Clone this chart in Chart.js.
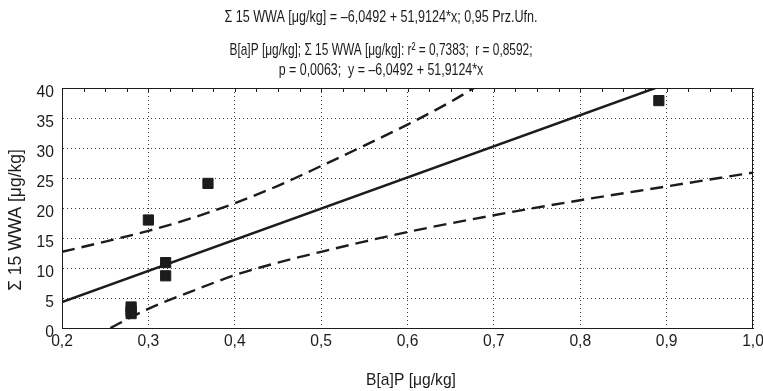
<!DOCTYPE html>
<html>
<head>
<meta charset="UTF-8">
<script src="https://cdn.jsdelivr.net/npm/chart.js"></script>
<style>
  body { margin: 0; background: #fff; }
  #wrap { width: 763px; height: 391px; position: relative; }
</style>
</head>
<body>
<div id="wrap"><canvas id="chart" width="763" height="391"></canvas></div>
<script>
// data
const pointsX = [0.280, 0.280, 0.280, 0.300, 0.320, 0.320, 0.369, 0.891];
const pointsY = [3.5, 2.9, 2.4, 18.0, 10.9, 8.7, 24.1, 37.9];

// fitted line y = -6,0492 + 51,9124*x (clipped at y = 40)
const fitX = [0.2, 0.8869];
const fitY = [4.33, 40];

// 0,95 confidence bands
const upperX = [0.2, 0.25, 0.3, 0.35, 0.4, 0.45, 0.5, 0.55, 0.6, 0.65, 0.677];
const upperY = [12.7, 14.4, 16.2, 18.3, 20.8, 23.7, 27.0, 30.4, 33.9, 37.7, 40.0];
const lowerX = [0.256, 0.3, 0.35, 0.4, 0.45, 0.5, 0.55, 0.6, 0.7, 0.8, 0.9, 1.0];
const lowerY = [0, 3.2, 6.1, 8.8, 10.9, 12.7, 14.4, 16.0, 18.8, 21.3, 23.6, 25.9];

const xTicks = [0.2, 0.3, 0.4, 0.5, 0.6, 0.7, 0.8, 0.9, 1.0];
const yTicks = [0, 5, 10, 15, 20, 25, 30, 35, 40];

const titleLines = [
  'Σ 15 WWA [μg/kg] = –6,0492 + 51,9124*x; 0,95 Prz.Ufn.',
  'B[a]P [μg/kg]; Σ 15 WWA [μg/kg]: r² = 0,7383;  r = 0,8592;',
  'p = 0,0063;  y = –6,0492 + 51,9124*x'
];
const xTitle = 'B[a]P [μg/kg]';
const yTitle = 'Σ 15 WWA [μg/kg]';

const FONT = '"Liberation Sans", Arial, sans-serif';
const INK = '#1c1c1c';

const toXY = (xs, ys) => xs.map((x, i) => ({ x: x, y: ys[i] }));

// text squeezed a bit sideways, like the narrow face of the original
function squeezed(ctx, text, x, y, size, sx, align) {
  ctx.save();
  ctx.font = size + 'px ' + FONT;
  ctx.textAlign = align || 'center';
  ctx.textBaseline = 'middle';
  ctx.translate(x, y);
  ctx.scale(sx, 1);
  ctx.fillText(text, 0, 0);
  ctx.restore();
}

// frame, top minor ticks, tick labels and the titles
const decor = {
  id: 'decor',
  afterDatasetsDraw(chart) {
    const ctx = chart.ctx;
    const a = chart.chartArea;
    const xs = chart.scales.x;
    const ys = chart.scales.y;
    ctx.save();
    ctx.strokeStyle = INK;
    ctx.lineWidth = 1;
    ctx.strokeRect(a.left + 0.5, a.top + 0.5, a.right - a.left - 1, a.bottom - a.top);
    for (let v = 0.225; v < 1.0; v += 0.025) {
      const px = Math.round(xs.getPixelForValue(v)) + 0.5;
      ctx.beginPath();
      ctx.moveTo(px, a.top);
      ctx.lineTo(px, a.top + 4);
      ctx.stroke();
    }
    ctx.fillStyle = INK;
    xTicks.forEach(v => {
      squeezed(ctx, v.toFixed(1).replace('.', ','), xs.getPixelForValue(v), a.bottom + 13, 17, 0.92);
    });
    yTicks.forEach(v => {
      squeezed(ctx, String(v), a.left - 8, ys.getPixelForValue(v) + 4.5, 17, 0.92, 'right');
    });
    squeezed(ctx, titleLines[0], 381, 17, 17, 0.74);
    squeezed(ctx, titleLines[1], 381, 50, 17, 0.70);
    squeezed(ctx, titleLines[2], 381, 70, 17, 0.73);
    squeezed(ctx, xTitle, 411, 380, 17, 0.92);
    ctx.translate(16, 220);
    ctx.rotate(-Math.PI / 2);
    squeezed(ctx, yTitle, 0, 0, 19, 0.92);
    ctx.restore();
  }
};

new Chart(document.getElementById('chart'), {
  type: 'scatter',
  data: {
    datasets: [
      {
        label: 'punkty',
        data: toXY(pointsX, pointsY),
        pointStyle: 'rect',
        pointRadius: 7.2,
        backgroundColor: INK,
        borderColor: INK,
        borderWidth: 1,
        showLine: false
      },
      {
        label: 'regresja',
        data: toXY(fitX, fitY),
        showLine: true,
        borderColor: INK,
        borderWidth: 2.4,
        pointRadius: 0
      },
      {
        label: 'górna 0,95',
        data: toXY(upperX, upperY),
        showLine: true,
        borderColor: INK,
        borderWidth: 2.4,
        borderDash: [13, 7],
        pointRadius: 0,
        cubicInterpolationMode: 'monotone'
      },
      {
        label: 'dolna 0,95',
        data: toXY(lowerX, lowerY),
        showLine: true,
        borderColor: INK,
        borderWidth: 2.4,
        borderDash: [13, 7],
        pointRadius: 0,
        cubicInterpolationMode: 'monotone'
      }
    ]
  },
  options: {
    responsive: false,
    animation: false,
    layout: { padding: { top: 88, right: 10, left: 0, bottom: 0 } },
    plugins: {
      legend: { display: false },
      title: { display: false },
      tooltip: { enabled: false }
    },
    scales: {
      x: {
        type: 'linear',
        min: 0.2,
        max: 1.0,
        afterBuildTicks: s => { s.ticks = xTicks.map(v => ({ value: v })); },
        afterFit: s => { s.height = 63; },
        ticks: { display: false },
        grid: { color: '#3a3a3a', lineWidth: 1, drawTicks: false },
        border: { color: INK, width: 1, dash: [1, 3] }
      },
      y: {
        type: 'linear',
        min: 0,
        max: 40,
        afterBuildTicks: s => { s.ticks = yTicks.map(v => ({ value: v })); },
        afterFit: s => { s.width = 62; },
        ticks: { display: false },
        grid: { color: '#3a3a3a', lineWidth: 1, drawTicks: false },
        border: { color: INK, width: 1, dash: [1, 3] }
      }
    }
  },
  plugins: [decor]
});
</script>
</body>
</html>
